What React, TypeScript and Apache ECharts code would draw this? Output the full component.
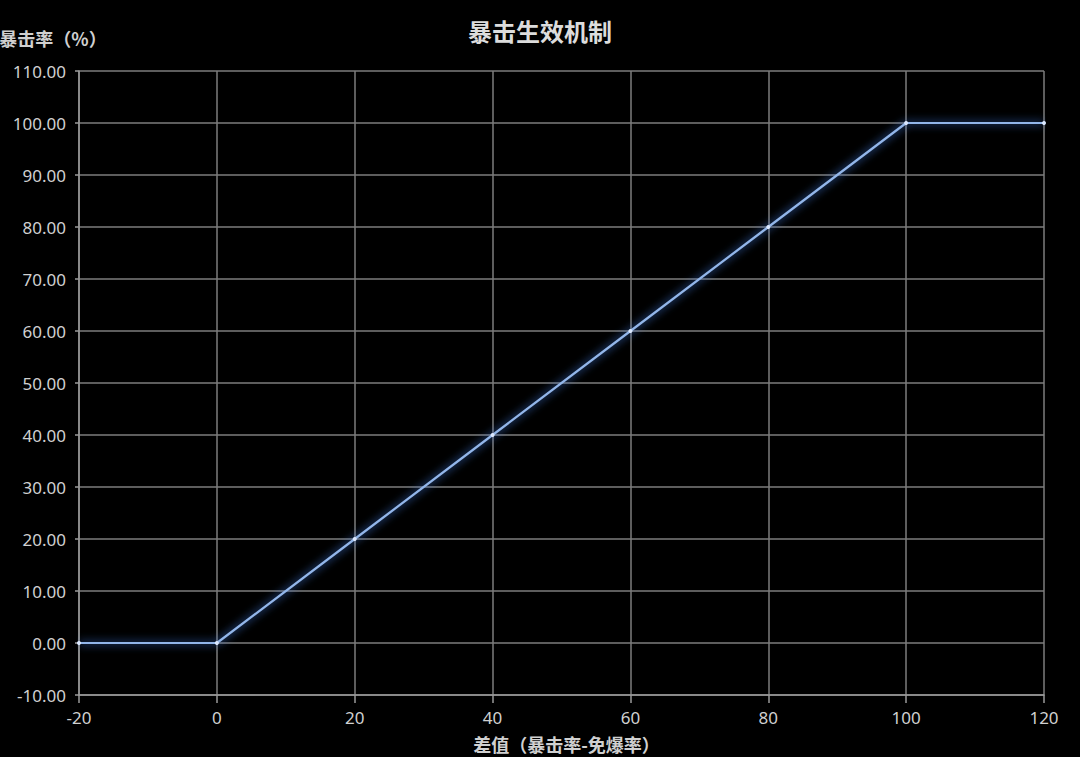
import React, { useEffect, useRef } from "react";
import * as echarts from "echarts";

const titleText = "暴击生效机制";
const xAxisName = "差值（暴击率-免爆率）";
const yAxisName = "暴击率（%）";
const xValues = [-20, 0, 20, 40, 60, 80, 100, 120];
const yValues = [0, 0, 20, 40, 60, 80, 100, 100];

export default function App() {
  const ref = useRef<HTMLDivElement>(null);
  useEffect(() => {
    if (!ref.current) return;
    const chart = echarts.init(ref.current, null, { renderer: "svg" });
    const gridColor = "#7c7c7c";
    const labelColor = "#d0d0d0";
    chart.setOption({
      animation: false,
      backgroundColor: "#000000",
      title: {
        text: titleText,
        left: "center",
        top: 13,
        textStyle: {
          color: "#dcdcdc",
          fontSize: 24,
          fontWeight: "bold",
          fontFamily: "Noto Sans CJK SC",
        },
      },
      grid: {
        left: 79,
        right: 36,
        top: 71,
        bottom: 62,
        containLabel: false,
        outerBoundsMode: "none",
      },
      xAxis: {
        type: "value",
        min: -20,
        max: 120,
        interval: 20,
        name: xAxisName,
        nameLocation: "middle",
        nameGap: 40,
        nameTextStyle: {
          color: labelColor,
          fontSize: 18,
          fontWeight: "bold",
          fontFamily: "Noto Sans CJK SC",
          padding: [0, 0, 0, 10],
        },
        axisLine: { show: true, onZero: false, lineStyle: { color: "#9a9a9a", width: 1.5 } },
        axisTick: { show: true, length: 8, lineStyle: { color: "#9a9a9a", width: 1.5 } },
        axisLabel: {
          color: labelColor,
          fontSize: 17,
          margin: 14,
          fontFamily: "Noto Sans",
        },
        splitLine: { show: true, lineStyle: { color: gridColor, width: 1.5 } },
      },
      yAxis: {
        type: "value",
        min: -10,
        max: 110,
        interval: 10,
        name: yAxisName,
        nameLocation: "end",
        nameGap: 24,
        nameTextStyle: {
          color: labelColor,
          fontSize: 18,
          fontWeight: "bold",
          fontFamily: "Noto Sans CJK SC",
          align: "center",
          padding: [0, 0, 0, -52],
        },
        axisLine: { show: true, onZero: false, lineStyle: { color: "#9a9a9a", width: 1.5 } },
        axisTick: { show: true, length: 4, lineStyle: { color: "#9a9a9a", width: 1.5 } },
        axisLabel: {
          color: labelColor,
          fontSize: 17,
          margin: 13,
          fontFamily: "Noto Sans",
          formatter: (v: number) => v.toFixed(2),
        },
        splitLine: { show: true, lineStyle: { color: gridColor, width: 1.5 } },
      },
      series: [
        {
          type: "line",
          data: xValues.map((x, i) => [x, yValues[i]]),
          symbol: "circle",
          symbolSize: 4,
          itemStyle: { color: "#dbe8ff" },
          lineStyle: {
            color: "#92b6ea",
            width: 2.2,
            shadowColor: "rgba(70,140,255,1)",
            shadowBlur: 8,
          },
        },
      ],
    });
    return () => chart.dispose();
  }, []);
  return (
    <div
      ref={ref}
      style={{ position: "fixed", left: 0, top: 0, width: 1080, height: 757 }}
    />
  );
}
